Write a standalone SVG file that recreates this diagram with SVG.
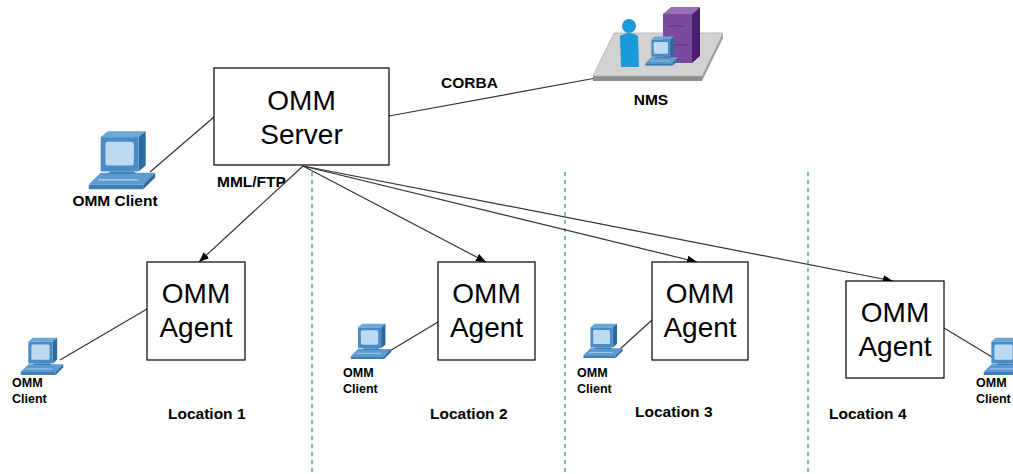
<svg xmlns="http://www.w3.org/2000/svg" width="1013" height="474" viewBox="0 0 1013 474">
  <defs>
    <style>
      .box { fill: #ffffff; stroke: #000000; stroke-width: 1.2; }
      .big { font-family: "Liberation Sans", Arial, sans-serif; font-size: 28px; fill: #000; text-anchor: middle; }
      .lbl { font-family: "Liberation Sans", Arial, sans-serif; font-size: 15.5px; font-weight: bold; fill: #000; }
      .sm { font-family: "Liberation Sans", Arial, sans-serif; font-size: 12.5px; font-weight: bold; fill: #000; }
      .link { stroke: #333333; stroke-width: 1.2; fill: none; }
      .arrow { stroke: #333333; stroke-width: 1.2; fill: none; marker-end: url(#ah); }
      .sep { stroke: #2a8c96; stroke-width: 1.2; stroke-dasharray: 4 4; fill: none; }
    </style>
    <marker id="ah" viewBox="0 0 10 10" refX="10" refY="5" markerWidth="10" markerHeight="10" markerUnits="userSpaceOnUse" orient="auto">
      <path d="M0,1 L10,5 L0,9 Z" fill="#000"/>
    </marker>
    <!-- workstation icon: monitor on a keyboard base -->
    <symbol id="pc" viewBox="0 0 60 54">
      <path d="M2,46 L12,36 L58,36 L48,46 Z" fill="#5b9bd0"/>
      <path d="M2,46 L48,46 L48,50 L2,50 Z" fill="#3d7fb8"/>
      <path d="M48,46 L58,36 L58,40 L48,50 Z" fill="#2e6aa0"/>
      <path d="M10,42 L44,42" stroke="#a9cdea" stroke-width="1.2"/>
      <path d="M12,6 L18,1 L50,1 L44,6 Z" fill="#6aa8d8"/>
      <path d="M44,6 L50,1 L50,30 L44,35 Z" fill="#2e6aa0"/>
      <rect x="12" y="6" width="32" height="29" fill="#4a8cc6"/>
      <rect x="16" y="10" width="24" height="20" rx="2" fill="#bcdaf2"/>
      <path d="M20,35 L40,35 L42,37 L18,37 Z" fill="#3d7fb8"/>
    </symbol>
  </defs>

  <!-- location separators -->
  <g id="separators">
    <line class="sep" x1="312" y1="172" x2="312" y2="474"/>
    <line class="sep" x1="565" y1="172" x2="565" y2="474"/>
    <line class="sep" x1="808" y1="172" x2="808" y2="474"/>
  </g>

  <!-- connectors -->
  <g id="connectors">
    <line class="link" x1="214" y1="117" x2="150" y2="172"/>
    <line class="link" x1="389" y1="116" x2="596" y2="78"/>
    <line class="arrow" x1="303" y1="166" x2="199" y2="262"/>
    <line class="arrow" x1="303" y1="166" x2="486" y2="262"/>
    <line class="arrow" x1="303" y1="166" x2="697" y2="262"/>
    <line class="arrow" x1="303" y1="166" x2="893" y2="281"/>
    <line class="link" x1="147" y1="309" x2="60" y2="360"/>
    <line class="link" x1="438" y1="322" x2="388" y2="352"/>
    <line class="link" x1="652" y1="320" x2="619" y2="350"/>
    <line class="link" x1="944" y1="328" x2="992" y2="357"/>
  </g>

  <text class="lbl" x="441" y="88">CORBA</text>
  <text class="lbl" x="217" y="187">MML/FTP</text>

  <g id="server">
    <rect class="box" x="214" y="68" width="175" height="97"/>
    <text class="big" x="301.5" y="110">OMM</text>
    <text class="big" x="301.5" y="144">Server</text>
  </g>

  <g id="nms">
    <path d="M593,76 L702,76 L702,81 L593,81 Z" fill="#8c8c8c"/>
    <path d="M702,76 L723,33 L723,38 L702,81 Z" fill="#9a9a9a"/>
    <path d="M593,76 L614,33 L723,33 L702,76 Z" fill="#d2d2d2" stroke="#b0b0b0" stroke-width="0.8"/>
    <!-- server tower -->
    <path d="M663,14 L671,7 L700,7 L692,14 Z" fill="#9a6fb8"/>
    <path d="M692,14 L700,7 L700,56 L692,63 Z" fill="#4a1f6e"/>
    <rect x="663" y="14" width="29" height="49" fill="#7a4a9e"/>
    <line x1="668" y1="26" x2="684" y2="26" stroke="#5a3280" stroke-width="1"/>
    <line x1="668" y1="45" x2="688" y2="45" stroke="#5a3280" stroke-width="1"/>
    <!-- operator -->
    <ellipse cx="629" cy="26" rx="7" ry="7" fill="#1a9ad6"/>
    <path d="M620,36 Q629,30 638,36 L639,67 L621,67 Z" fill="#1a9ad6"/>
    <use href="#pc" x="644" y="36" width="36" height="32"/>
    <text class="lbl" x="651" y="105" text-anchor="middle" font-size="19px">NMS</text>
  </g>

  <g id="client-main">
    <use href="#pc" x="86" y="130" width="72" height="64"/>
    <text class="lbl" x="115" y="206" text-anchor="middle" font-size="16px">OMM Client</text>
  </g>

  <g id="agent1">
    <rect class="box" x="147" y="262" width="98" height="98"/>
    <text class="big" x="196" y="303">OMM</text>
    <text class="big" x="196" y="337">Agent</text>
  </g>
  <g id="agent2">
    <rect class="box" x="438" y="262" width="97" height="98"/>
    <text class="big" x="486.5" y="303">OMM</text>
    <text class="big" x="486.5" y="337">Agent</text>
  </g>
  <g id="agent3">
    <rect class="box" x="652" y="262" width="96" height="98"/>
    <text class="big" x="700" y="303">OMM</text>
    <text class="big" x="700" y="337">Agent</text>
  </g>
  <g id="agent4">
    <rect class="box" x="846" y="281" width="98" height="97"/>
    <text class="big" x="895" y="322">OMM</text>
    <text class="big" x="895" y="356">Agent</text>
  </g>

  <g id="client1">
    <use href="#pc" x="19" y="337" width="46" height="41"/>
    <text class="sm" x="12" y="387">OMM</text>
    <text class="sm" x="12" y="403">Client</text>
  </g>
  <g id="client2">
    <use href="#pc" x="349" y="323" width="44" height="39"/>
    <text class="sm" x="343" y="377">OMM</text>
    <text class="sm" x="343" y="393">Client</text>
  </g>
  <g id="client3">
    <use href="#pc" x="582" y="323" width="42" height="38"/>
    <text class="sm" x="577" y="377">OMM</text>
    <text class="sm" x="577" y="393">Client</text>
  </g>
  <g id="client4">
    <use href="#pc" x="982" y="337" width="46" height="41"/>
    <text class="sm" x="976" y="387">OMM</text>
    <text class="sm" x="976" y="403">Client</text>
  </g>

  <g id="locations">
    <text class="lbl" x="168" y="419" font-size="16px">Location 1</text>
    <text class="lbl" x="430" y="419" font-size="16px">Location 2</text>
    <text class="lbl" x="635" y="417" font-size="16px">Location 3</text>
    <text class="lbl" x="829" y="419" font-size="16px">Location 4</text>
  </g>
</svg>
